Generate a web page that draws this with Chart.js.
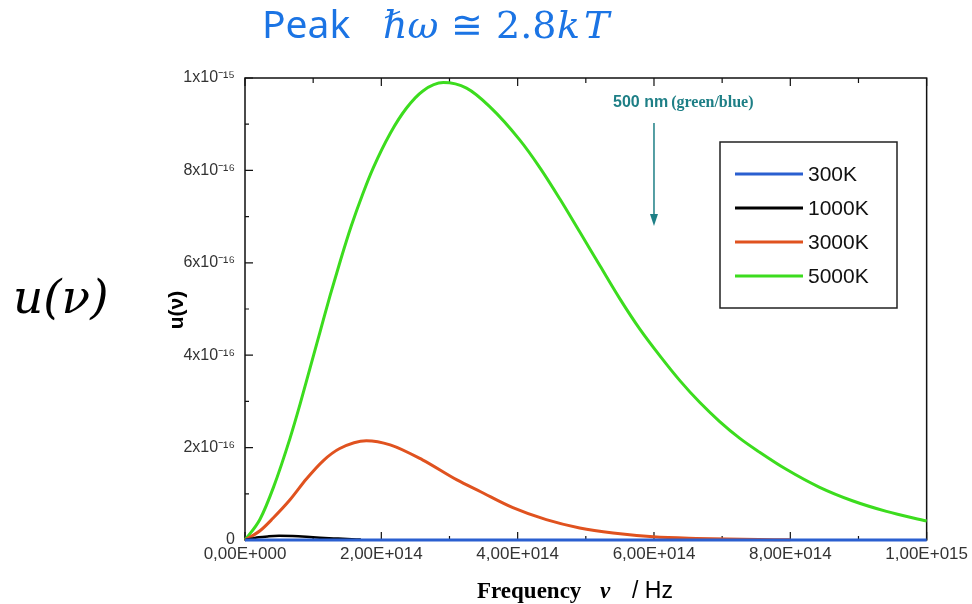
<!DOCTYPE html>
<html>
<head>
<meta charset="utf-8">
<script src="https://cdn.jsdelivr.net/npm/chart.js@4"></script>
<style>
  html, body { margin: 0; padding: 0; background: #fff; }
  canvas { display: block; }
</style>
</head>
<body>
<canvas id="planck" width="972" height="604"></canvas>
<script>
// units used in the arrays below
const NU_UNIT = 1e14;  // Hz
const U_UNIT = 1e-16;

// tick values (in the units above)
const xTicks = [0, 2, 4, 6, 8, 10];
const yTicks = [0, 2, 4, 6, 8, 10];

// 300K - flat on the axis
const nu300 = [0, 10];
const u300 = [0, 0];

// 1000K - tiny bump near the origin
const nu1000 = [0, 0.1, 0.2, 0.35, 0.5, 0.7, 0.9, 1.1, 1.3, 1.5, 1.7];
const u1000 = [0, 0.03, 0.06, 0.08, 0.09, 0.085, 0.07, 0.05, 0.035, 0.02, 0.01];

// 3000K
const nu3000 = [0, 0.22, 0.41, 0.66, 0.90, 1.15, 1.39, 1.78, 2.13, 2.61, 3.11, 3.45, 3.93, 4.42, 4.91, 5.40, 5.99, 6.62, 7.3, 8.0];
const u3000 = [0, 0.20, 0.47, 0.87, 1.32, 1.72, 1.98, 2.15, 2.06, 1.73, 1.30, 1.05, 0.70, 0.44, 0.26, 0.15, 0.07, 0.035, 0.015, 0.005];

// 5000K
const nu5000 = [0, 0.22, 0.42, 0.66, 0.81, 0.95, 1.10, 1.25, 1.40, 1.56, 1.73, 1.88, 2.13, 2.37, 2.61, 2.91, 3.25, 3.59, 4.03, 4.33, 4.62, 4.91, 5.21, 5.50, 5.79, 6.09, 6.38, 6.67, 6.96, 7.26, 7.55, 7.94, 8.43, 8.91, 9.41, 10.0];
const u5000 = [0, 0.45, 1.15, 2.2, 2.95, 3.7, 4.5, 5.3, 6.05, 6.8, 7.5, 8.05, 8.8, 9.35, 9.72, 9.90, 9.78, 9.38, 8.66, 8.05, 7.38, 6.67, 5.93, 5.22, 4.57, 3.98, 3.45, 2.98, 2.57, 2.20, 1.90, 1.53, 1.14, 0.85, 0.62, 0.41];

const seriesLabels = ['300K', '1000K', '3000K', '5000K'];
const seriesColors = ['#2a5fd0', '#000000', '#e0521f', '#3cdc1e'];

// the 500 nm marker
const markerNu = 6;
const markerText = ['500 nm', '(green/blue)'];

const toPoints = (xs, ys) => xs.map((v, i) => ({ x: v * NU_UNIT, y: ys[i] * U_UNIT }));
const allSeries = [[nu300, u300], [nu1000, u1000], [nu3000, u3000], [nu5000, u5000]];

const datasets = allSeries.map((s, i) => ({
  label: seriesLabels[i],
  data: toPoints(s[0], s[1]),
  borderColor: seriesColors[i],
  borderWidth: i === 1 ? 2.5 : 3,
  pointRadius: 0,
  fill: false,
  cubicInterpolationMode: 'monotone',
  clip: 6
}));

const sup = { '0': '\u2070', '1': '\u00b9', '2': '\u00b2', '3': '\u00b3', '4': '\u2074', '5': '\u2075', '6': '\u2076', '7': '\u2077', '8': '\u2078', '9': '\u2079', '-': '\u207b' };

function fmtX(v) {
  if (v === 0) return '0,00E+000';
  const [m, e] = v.toExponential(2).split('e');
  const ex = parseInt(e, 10);
  return m.replace('.', ',') + 'E' + (ex < 0 ? '-' : '+') + String(Math.abs(ex)).padStart(3, '0');
}

function fmtY(v) {
  if (Math.abs(v) < 1e-20) return '0';
  const [m, e] = v.toExponential(0).split('e');
  return m + 'x10' + String(parseInt(e, 10)).split('').map(c => sup[c]).join('');
}

// frame, inward ticks, legend, labels and annotation
const decor = {
  id: 'decor',
  beforeDatasetsDraw(chart) {
    const { ctx, chartArea: a, scales } = chart;
    ctx.save();
    ctx.strokeStyle = '#111';
    ctx.lineWidth = 1.5;
    ctx.strokeRect(a.left, a.top, a.right - a.left, a.bottom - a.top);
    ctx.lineWidth = 1.2;
    ctx.beginPath();
    for (let i = 0; i < xTicks.length; i++) {
      const px = scales.x.getPixelForValue(xTicks[i] * NU_UNIT);
      ctx.moveTo(px, a.bottom); ctx.lineTo(px, a.bottom - 8);
      ctx.moveTo(px, a.top); ctx.lineTo(px, a.top + 8);
      if (i < xTicks.length - 1) {
        const mx = scales.x.getPixelForValue((xTicks[i] + xTicks[i + 1]) / 2 * NU_UNIT);
        ctx.moveTo(mx, a.bottom); ctx.lineTo(mx, a.bottom - 4);
        ctx.moveTo(mx, a.top); ctx.lineTo(mx, a.top + 5);
      }
    }
    for (let i = 0; i < yTicks.length; i++) {
      const py = scales.y.getPixelForValue(yTicks[i] * U_UNIT);
      ctx.moveTo(a.left, py); ctx.lineTo(a.left + 8, py);
      if (i < yTicks.length - 1) {
        const my = scales.y.getPixelForValue((yTicks[i] + yTicks[i + 1]) / 2 * U_UNIT);
        ctx.moveTo(a.left, my); ctx.lineTo(a.left + 4, my);
      }
    }
    ctx.stroke();
    ctx.restore();
  },
  afterDraw(chart) {
    const { ctx, scales } = chart;
    ctx.save();

    // legend
    ctx.strokeStyle = '#222';
    ctx.lineWidth = 1.5;
    ctx.strokeRect(720, 142, 177, 166);
    ctx.font = '21px "Liberation Sans", Arial, sans-serif';
    ctx.textBaseline = 'middle';
    ctx.fillStyle = '#111';
    seriesLabels.forEach((lab, i) => {
      const y = 174 + i * 34;
      ctx.strokeStyle = seriesColors[i];
      ctx.lineWidth = 3;
      ctx.beginPath(); ctx.moveTo(735, y); ctx.lineTo(803, y); ctx.stroke();
      ctx.fillText(lab, 808, y + 1);
    });

    // 500 nm marker
    const teal = '#1e7f86';
    const mx = scales.x.getPixelForValue(markerNu * NU_UNIT);
    ctx.fillStyle = teal;
    ctx.strokeStyle = teal;
    ctx.textBaseline = 'alphabetic';
    ctx.font = 'bold 16px "Liberation Sans", Arial, sans-serif';
    ctx.fillText(markerText[0], 613, 107);
    const w0 = ctx.measureText(markerText[0]).width;
    ctx.font = 'bold 16px "Liberation Serif", "Times New Roman", serif';
    ctx.fillText(markerText[1], 613 + w0 + 3, 107);
    ctx.lineWidth = 1.5;
    ctx.beginPath(); ctx.moveTo(mx, 123); ctx.lineTo(mx, 216); ctx.stroke();
    ctx.beginPath(); ctx.moveTo(mx - 4, 214); ctx.lineTo(mx + 4, 214); ctx.lineTo(mx, 226); ctx.closePath(); ctx.fill();

    // rotated y axis title
    ctx.save();
    ctx.translate(183, 310);
    ctx.rotate(-Math.PI / 2);
    ctx.fillStyle = '#000';
    ctx.font = 'bold 21px "Liberation Sans", Arial, sans-serif';
    ctx.textAlign = 'center';
    ctx.textBaseline = 'alphabetic';
    ctx.fillText('u(\u03bd)', 0, 0);
    ctx.restore();

    // x axis title
    ctx.fillStyle = '#000';
    ctx.textBaseline = 'alphabetic';
    ctx.font = 'bold 23px "Liberation Serif", "Times New Roman", serif';
    ctx.fillText('Frequency', 477, 598);
    ctx.font = 'bold italic 23px "Liberation Serif", "Times New Roman", serif';
    ctx.fillText('\u03bd', 600, 598);
    ctx.font = '23px "Liberation Sans", Arial, sans-serif';
    ctx.fillText('/ Hz', 632, 598);

    // big left label
    ctx.font = 'italic 47px "DejaVu Serif", "Liberation Serif", serif';
    ctx.fillText('u(\u03bd)', 13, 313);

    // title
    const blue = '#1b74e4';
    ctx.fillStyle = blue;
    ctx.font = '39px "Noto Sans", "Open Sans", sans-serif';
    ctx.fillText('Peak', 262, 38);
    ctx.font = 'italic 38px "DejaVu Serif", serif';
    ctx.fillText('\u210f\u03c9', 383, 38);
    ctx.font = '38px "DejaVu Serif", "DejaVu Sans", serif';
    ctx.fillText('\u2245', 451, 38);
    ctx.font = '38px "DejaVu Serif", serif';
    ctx.fillText('2.8', 496, 38);
    ctx.font = 'italic 38px "DejaVu Serif", serif';
    ctx.fillText('k', 557, 38);
    const wk = ctx.measureText('k').width;
    ctx.fillText('T', 557 + wk + 4, 38);

    ctx.restore();
  }
};

new Chart(document.getElementById('planck'), {
  type: 'line',
  data: { datasets },
  plugins: [decor],
  options: {
    responsive: false,
    animation: false,
    layout: { padding: { top: 78, right: 44, left: 0, bottom: 0 } },
    plugins: { legend: { display: false }, tooltip: { enabled: false } },
    scales: {
      x: {
        type: 'linear',
        min: 0,
        max: 10 * NU_UNIT,
        afterFit(s) { s.height = 64; },
        afterBuildTicks(s) { s.ticks = xTicks.map(v => ({ value: v * NU_UNIT })); },
        grid: { display: false, drawTicks: false },
        border: { display: false },
        ticks: {
          callback: v => fmtX(v),
          autoSkip: false,
          maxRotation: 0,
          padding: 4,
          color: '#333',
          font: { family: '"Liberation Sans", Arial, sans-serif', size: 17 }
        }
      },
      y: {
        type: 'linear',
        min: 0,
        max: 10 * U_UNIT,
        afterFit(s) { s.width = 245; },
        afterBuildTicks(s) { s.ticks = yTicks.map(v => ({ value: v * U_UNIT })); },
        grid: { display: false, drawTicks: false },
        border: { display: false },
        ticks: {
          callback: v => fmtY(v),
          autoSkip: false,
          padding: 10,
          color: '#333',
          font: { family: '"Liberation Sans", Arial, sans-serif', size: 16 }
        }
      }
    }
  }
});
</script>
</body>
</html>
